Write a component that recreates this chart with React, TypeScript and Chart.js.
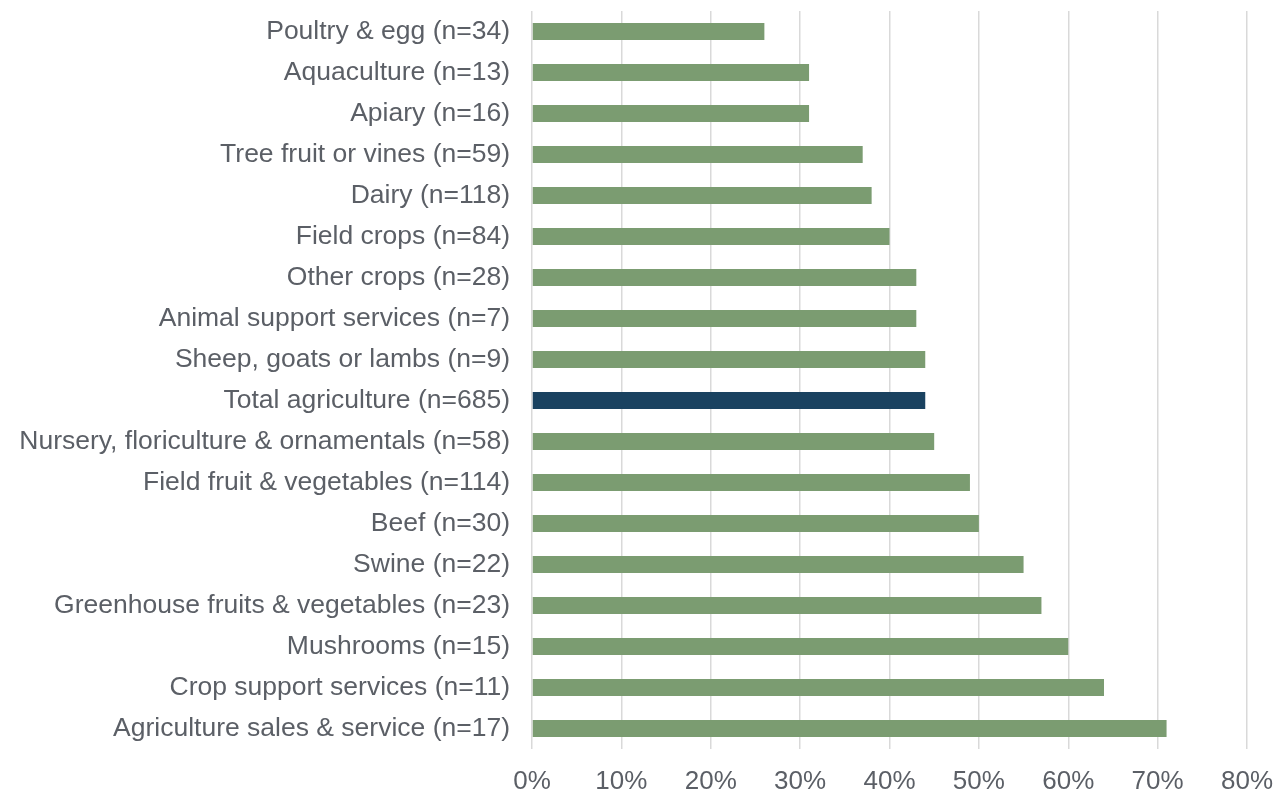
import React, { useEffect, useRef } from "react";
import { Chart, registerables } from "chart.js";

Chart.register(...registerables);

const categories = [
  "Poultry & egg (n=34)",
  "Aquaculture (n=13)",
  "Apiary (n=16)",
  "Tree fruit or vines (n=59)",
  "Dairy (n=118)",
  "Field crops (n=84)",
  "Other crops (n=28)",
  "Animal support services (n=7)",
  "Sheep, goats or lambs (n=9)",
  "Total agriculture (n=685)",
  "Nursery, floriculture & ornamentals (n=58)",
  "Field fruit & vegetables (n=114)",
  "Beef (n=30)",
  "Swine (n=22)",
  "Greenhouse fruits & vegetables (n=23)",
  "Mushrooms (n=15)",
  "Crop support services (n=11)",
  "Agriculture sales & service (n=17)",
];

const values = [26, 31, 31, 37, 38, 40, 43, 43, 44, 44, 45, 49, 50, 55, 57, 60, 64, 71];

const highlightCategory = "Total agriculture (n=685)";
const greenColor = "#7b9c71";
const darkColor = "#1a4260";
const textColor = "#5b5f66";
const fontFamily = "Liberation Sans";

export default function App() {
  const canvasRef = useRef<HTMLCanvasElement | null>(null);

  useEffect(() => {
    if (!canvasRef.current) return;
    const colors = categories.map((c) => (c === highlightCategory ? darkColor : greenColor));
    const chart = new Chart(canvasRef.current, {
      type: "bar",
      data: {
        labels: categories,
        datasets: [
          {
            data: values,
            backgroundColor: colors,
            borderWidth: 0,
            categoryPercentage: 1,
            barPercentage: 0.42,
          },
        ],
      },
      options: {
        indexAxis: "y",
        animation: false,
        responsive: true,
        maintainAspectRatio: false,
        layout: { padding: { top: 11, right: 0, bottom: 0, left: 0 } },
        plugins: { legend: { display: false }, tooltip: { enabled: false } },
        scales: {
          x: {
            min: 0,
            max: 80,
            ticks: {
              stepSize: 10,
              callback: (v: any) => `${v}%`,
              color: textColor,
              font: { family: fontFamily, size: 26 },
              padding: 17,
              maxRotation: 0,
            },
            grid: { color: "#d9d9d9", lineWidth: 1.5, drawTicks: false },
            border: { display: false },
            afterFit: (scale: any) => {
              scale.height = 43;
              scale.paddingLeft = 0;
              scale.paddingRight = 36;
            },
          },
          y: {
            ticks: {
              color: textColor,
              font: { family: fontFamily, size: 26.5 },
              padding: 22,
              autoSkip: false,
            },
            grid: { display: false, drawTicks: false },
            border: { display: false },
            afterFit: (scale: any) => {
              scale.width = 532;
              scale.paddingTop = 0;
              scale.paddingBottom = 0;
            },
          },
        },
      },
    });
    return () => chart.destroy();
  }, []);

  return (
    <div style={{ position: "fixed", left: 0, top: 0, width: 1283, height: 792, background: "#fff" }}>
      <canvas ref={canvasRef} />
    </div>
  );
}
